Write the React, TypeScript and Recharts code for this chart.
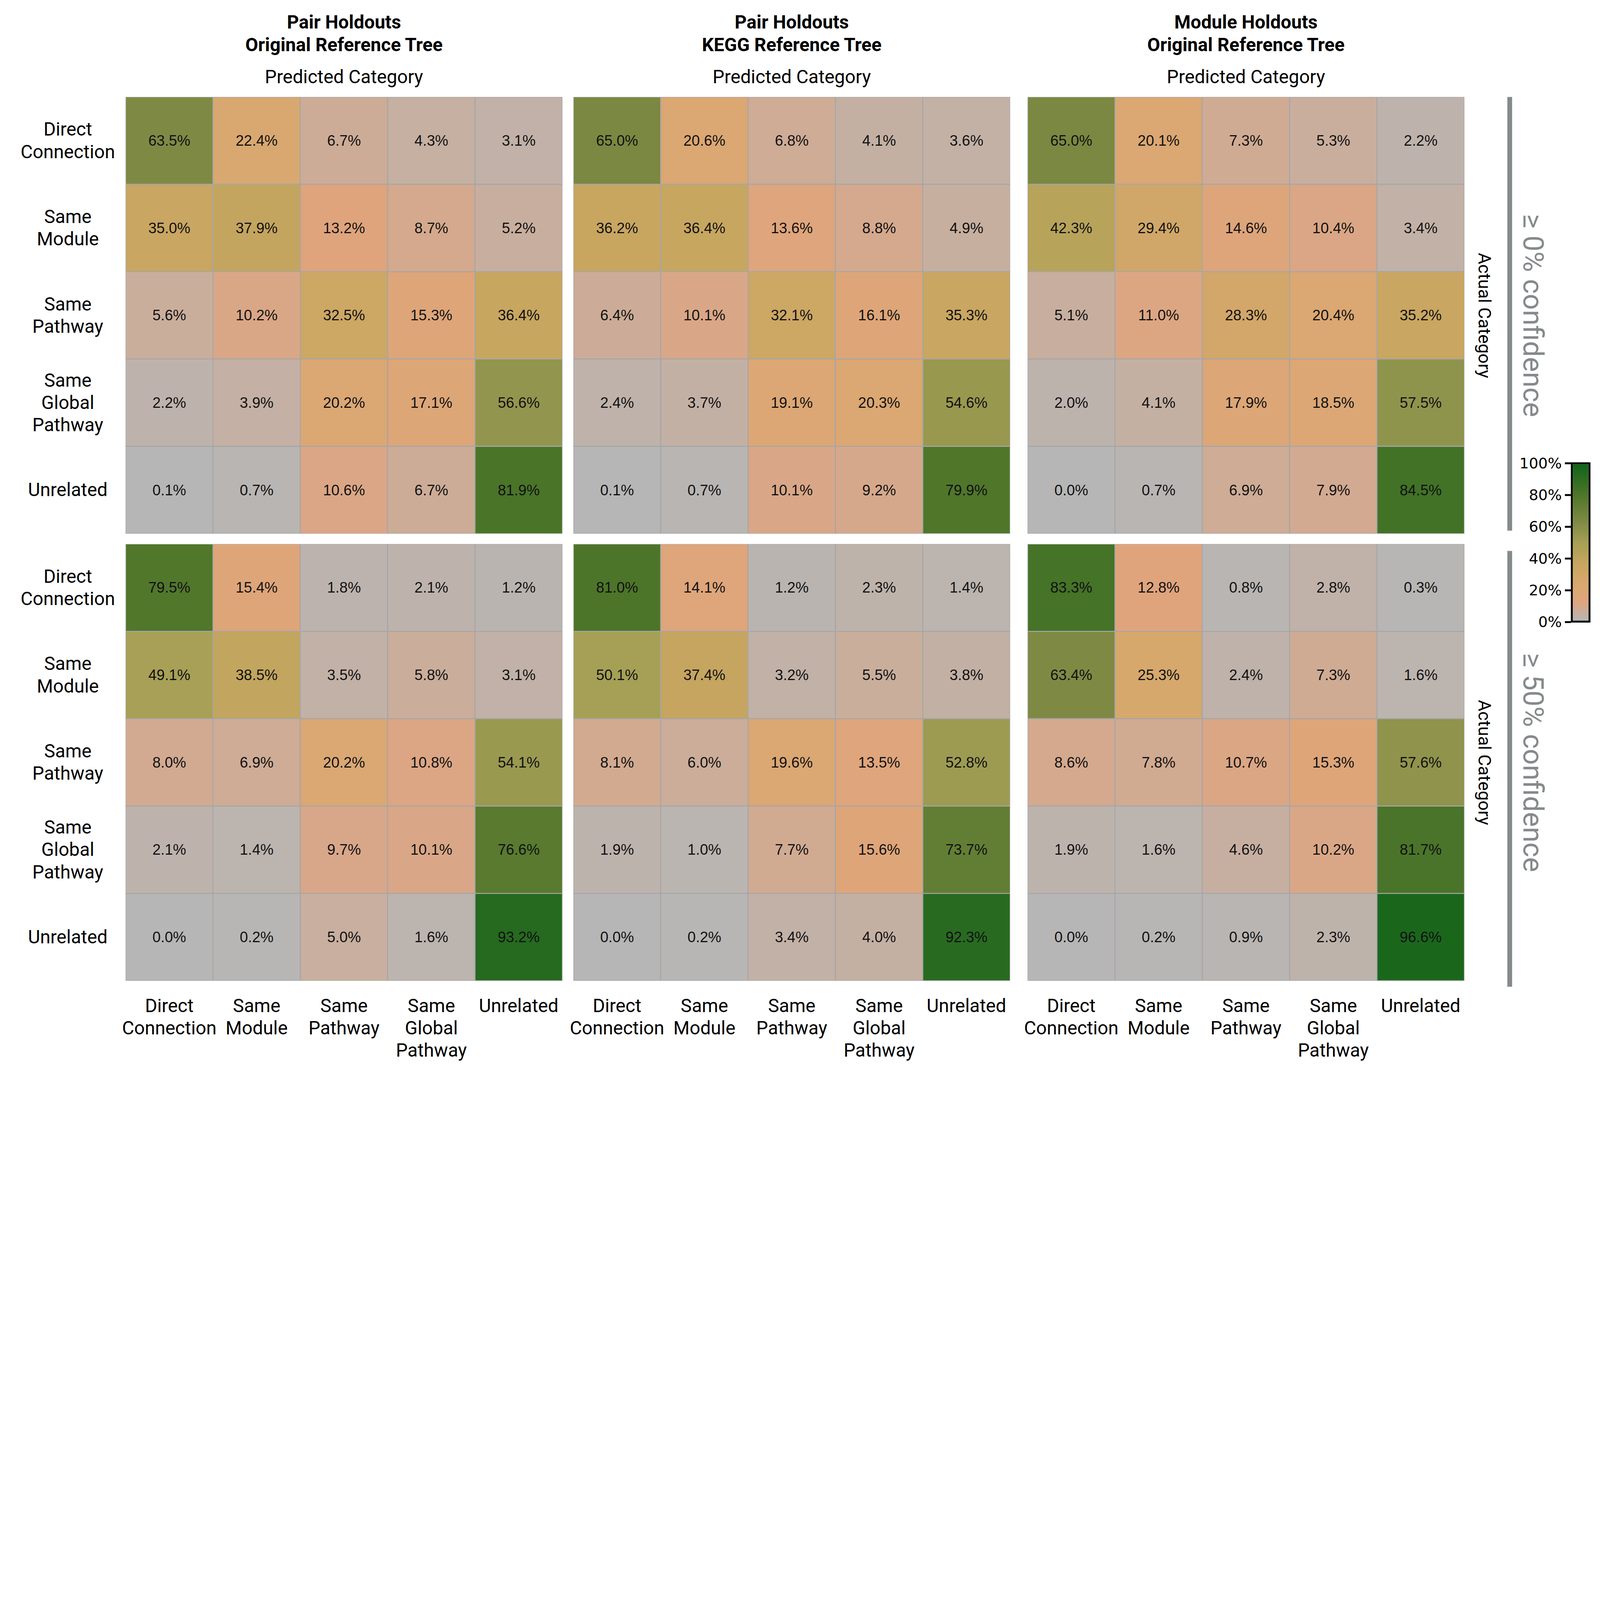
import { ScatterChart, Scatter, XAxis, YAxis } from 'recharts';

const categories = ['Direct\nConnection', 'Same\nModule', 'Same\nPathway', 'Same\nGlobal\nPathway', 'Unrelated'];
const panelTitles = [
  ['Pair Holdouts', 'Original Reference Tree'],
  ['Pair Holdouts', 'KEGG Reference Tree'],
  ['Module Holdouts', 'Original Reference Tree'],
];
const confidenceLabels = ['≥ 0% confidence', '≥ 50% confidence'];
const colorbarTicks = ['100%', '80%', '60%', '40%', '20%', '0%'];

const pairOrigAll = [[63.5, 22.4, 6.7, 4.3, 3.1], [35.0, 37.9, 13.2, 8.7, 5.2], [5.6, 10.2, 32.5, 15.3, 36.4], [2.2, 3.9, 20.2, 17.1, 56.6], [0.1, 0.7, 10.6, 6.7, 81.9]];
const pairKeggAll = [[65.0, 20.6, 6.8, 4.1, 3.6], [36.2, 36.4, 13.6, 8.8, 4.9], [6.4, 10.1, 32.1, 16.1, 35.3], [2.4, 3.7, 19.1, 20.3, 54.6], [0.1, 0.7, 10.1, 9.2, 79.9]];
const moduleOrigAll = [[65.0, 20.1, 7.3, 5.3, 2.2], [42.3, 29.4, 14.6, 10.4, 3.4], [5.1, 11.0, 28.3, 20.4, 35.2], [2.0, 4.1, 17.9, 18.5, 57.5], [0.0, 0.7, 6.9, 7.9, 84.5]];
const pairOrig50 = [[79.5, 15.4, 1.8, 2.1, 1.2], [49.1, 38.5, 3.5, 5.8, 3.1], [8.0, 6.9, 20.2, 10.8, 54.1], [2.1, 1.4, 9.7, 10.1, 76.6], [0.0, 0.2, 5.0, 1.6, 93.2]];
const pairKegg50 = [[81.0, 14.1, 1.2, 2.3, 1.4], [50.1, 37.4, 3.2, 5.5, 3.8], [8.1, 6.0, 19.6, 13.5, 52.8], [1.9, 1.0, 7.7, 15.6, 73.7], [0.0, 0.2, 3.4, 4.0, 92.3]];
const moduleOrig50 = [[83.3, 12.8, 0.8, 2.8, 0.3], [63.4, 25.3, 2.4, 7.3, 1.6], [8.6, 7.8, 10.7, 15.3, 57.6], [1.9, 1.6, 4.6, 10.2, 81.7], [0.0, 0.2, 0.9, 2.3, 96.6]];

const panels = [[pairOrigAll, pairKeggAll, moduleOrigAll], [pairOrig50, pairKegg50, moduleOrig50]];

const stops: [number, number[]][] = [
  [0, [182, 182, 182]], [0.12, [224, 164, 126]], [0.22, [218, 168, 112]], [0.36, [200, 166, 96]],
  [0.5, [165, 160, 85]], [0.62, [130, 140, 70]], [0.8, [80, 118, 42]], [1, [15, 100, 25]],
];
function colorFor(v: number) {
  const t = v / 100;
  for (let i = 1; i < stops.length; i++) {
    if (t <= stops[i][0]) {
      const [t0, c0] = stops[i - 1];
      const [t1, c1] = stops[i];
      const f = (t - t0) / (t1 - t0);
      return `rgb(${c0.map((c, k) => Math.round(c + (c1[k] - c) * f)).join(',')})`;
    }
  }
  return 'rgb(15,100,25)';
}

const W = 6700;
const H = 4634;
const PANEL = 1829;
const CELL = PANEL / 5;
const LEFTS = [526, 2401, 4303];
const TOPS = [406, 2278];
const FONT = 'Roboto, "Liberation Sans", sans-serif';

function Cell(props: any) {
  const { cx, cy, payload } = props;
  return (
    <g>
      <rect x={cx - CELL / 2} y={cy - CELL / 2} width={CELL} height={CELL} fill={colorFor(payload.v)} stroke="#a6a6a6" strokeWidth={4} />
      <text x={cx} y={cy} textAnchor="middle" dominantBaseline="central" fontSize={62} fontFamily={'"Liberation Sans", Arial, sans-serif'} fill="#111">
        {payload.v.toFixed(1)}%
      </text>
    </g>
  );
}

function Panel({ matrix }: { matrix: number[][] }) {
  const data = matrix.flatMap((row, r) => row.map((v, c) => ({ x: c, y: r, v })));
  return (
    <ScatterChart width={PANEL} height={PANEL} margin={{ top: 0, right: 0, bottom: 0, left: 0 }}>
      <XAxis type="number" dataKey="x" domain={[-0.5, 4.5]} hide />
      <YAxis type="number" dataKey="y" domain={[-0.5, 4.5]} reversed hide />
      <Scatter data={data} shape={<Cell />} isAnimationActive={false} />
    </ScatterChart>
  );
}

function Label({ text, x, y, size = 78, weight = 400, color = '#000' }: any) {
  const lines = text.split('\n');
  return (
    <div style={{ position: 'absolute', left: x - 600, top: y - (lines.length * size * 1.2) / 2, width: 1200, textAlign: 'center', fontSize: size, fontWeight: weight, lineHeight: 1.2, color, fontFamily: FONT, whiteSpace: 'pre' }}>
      {text}
    </div>
  );
}

export default function App() {
  const vw = typeof window !== 'undefined' ? window.innerWidth : W;
  const vh = typeof window !== 'undefined' ? window.innerHeight : H;
  const scale = Math.min(1, vw / W, vh / H);
  return (
    <div style={{ position: 'fixed', left: 0, top: 0, width: W, height: H, background: '#fff', overflow: 'hidden', transform: `scale(${scale})`, transformOrigin: 'top left' }}>
      {panelTitles.map((t, i) => (
        <div key={i}>
          <Label text={t.join('\n')} x={LEFTS[i] + PANEL / 2} y={141} size={78} weight={700} />
          <Label text="Predicted Category" x={LEFTS[i] + PANEL / 2} y={322} size={78} />
        </div>
      ))}
      {panels.map((row, r) =>
        row.map((m, c) => (
          <div key={`${r}-${c}`} style={{ position: 'absolute', left: LEFTS[c], top: TOPS[r] }}>
            <Panel matrix={m} />
          </div>
        ))
      )}
      {TOPS.map((top, r) =>
        categories.map((cat, i) => <Label key={`${r}-${i}`} text={cat} x={284} y={top + CELL * (i + 0.5)} size={78} />)
      )}
      {LEFTS.map((left, c) =>
        categories.map((cat, i) => (
          <div key={`${c}-${i}`} style={{ position: 'absolute', left: left + CELL * (i + 0.5) - 300, top: 4165, width: 600, textAlign: 'center', fontSize: 78, lineHeight: 1.2, fontFamily: FONT, whiteSpace: 'pre' }}>
            {cat}
          </div>
        ))
      )}
      {TOPS.map((top, r) => (
        <div key={r}>
          <div style={{ position: 'absolute', left: 6217 - 400, top: top + PANEL / 2 - 50, width: 800, height: 100, textAlign: 'center', fontSize: 74, lineHeight: '100px', fontFamily: FONT, transform: 'rotate(90deg)' }}>
            Actual Category
          </div>
          <div style={{ position: 'absolute', left: 6312, top: r === 0 ? 406 : 2307, width: 20, height: r === 0 ? 1816 : 1825, background: '#858a8c' }} />
          <div style={{ position: 'absolute', left: 6420 - 800, top: top + PANEL / 2 - 80, width: 1600, height: 160, textAlign: 'center', fontSize: 118, lineHeight: '160px', color: '#858a8c', fontFamily: FONT, transform: 'rotate(90deg)' }}>
            {confidenceLabels[r]}
          </div>
        </div>
      ))}
      <div style={{ position: 'absolute', left: 6578, top: 1936, width: 66, height: 655, border: '8px solid #000', background: 'linear-gradient(to top, rgb(182,182,182) 0%, rgb(224,164,126) 12%, rgb(218,168,112) 22%, rgb(200,166,96) 36%, rgb(165,160,85) 50%, rgb(130,140,70) 62%, rgb(80,118,42) 80%, rgb(15,100,25) 100%)' }} />
      {colorbarTicks.map((t, i) => (
        <div key={t}>
          <div style={{ position: 'absolute', left: 6553, top: 1936 + i * 133, width: 25, height: 8, background: '#000' }} />
          <div style={{ position: 'absolute', left: 6240, top: 1936 + i * 133 - 32, width: 300, textAlign: 'right', fontSize: 62, lineHeight: '72px', fontFamily: '"DejaVu Sans", sans-serif' }}>{t}</div>
        </div>
      ))}
    </div>
  );
}
